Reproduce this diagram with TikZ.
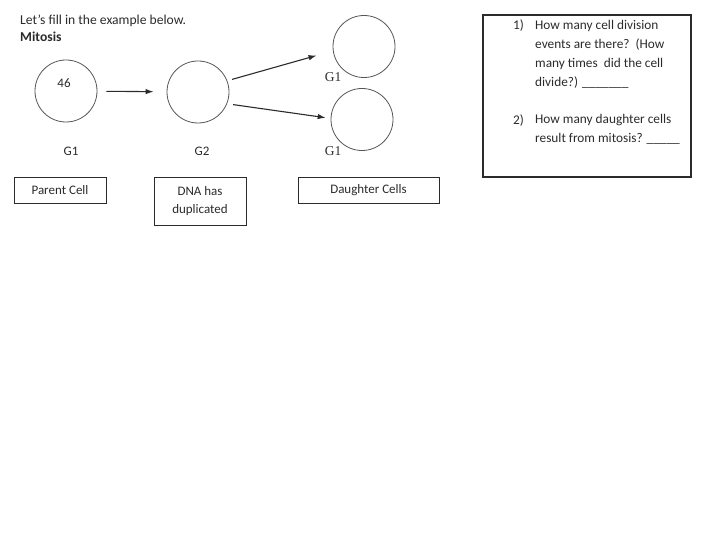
\documentclass[tikz,border=0pt]{standalone}
\usepackage{fontspec}
\setmainfont{Carlito}
\newfontfamily\timesfont{Liberation Serif}
\usetikzlibrary{arrows.meta}
\definecolor{inkgray}{HTML}{2B2B2B}
\definecolor{rimgray}{HTML}{555555}

\begin{document}
\begin{tikzpicture}[x=1pt, y=-1pt,
  cell/.style={circle, draw=rimgray, line width=0.8pt, minimum size=62pt, inner sep=0pt},
  tag/.style={draw=inkgray, line width=0.9pt, minimum height=26pt, align=center, text=inkgray, font=\fontsize{13}{18}\selectfont},
  phase/.style={font=\fontsize{13}{15}\selectfont, text=inkgray},
  gone/.style={font=\timesfont\fontsize{13.5}{15}\selectfont, text=inkgray},
  arrow/.style={-{Latex[length=8pt,width=5.5pt]}, line width=1.1pt, inkgray},
  quest/.style={anchor=base west, align=left, text=inkgray, inner sep=0pt, font=\fontsize{13.3}{19}\selectfont}
]
  \useasboundingbox (0,0) rectangle (720,540);

  % heading
  \node[anchor=base west, inner sep=0pt, text=inkgray, font=\fontsize{13.6}{16}\selectfont] (intro) at (20,25) {Let’s fill in the example below.};
  \node[anchor=base west, inner sep=0pt, text=inkgray, font=\fontsize{13.6}{16}\selectfont\bfseries] (title) at (20,42) {Mitosis};

  % cells
  \node[cell] (parent) at (66,91) {};
  \node[phase] (count) at (64,83) {46};
  \node[cell] (dup) at (198,92) {};
  \node[cell] (dtop) at (364,46.5) {};
  \node[cell] (dbot) at (362,119.5) {};

  \draw[arrow, shorten <=9pt, shorten >=13pt] (parent) -- (dup);
  \draw[arrow, shorten <=5pt, shorten >=17pt] (dup.21) -- (dtop.188);
  \draw[arrow, shorten <=6pt, shorten >=5pt] (dup.-22) -- (dbot.178);

  % phase labels
  \node[phase] (g1a) at (71,151) {G1};
  \node[phase] (g2) at (202,151) {G2};
  \node[gone] (g1b) at (333,77) {G1};
  \node[gone] (g1c) at (333,151) {G1};

  % boxes
  \node[tag, minimum width=92pt] (parentbox) at (60,190) {Parent Cell};
  \node[tag, minimum width=92pt, minimum height=48pt] (dnabox) at (200,201) {DNA has\\duplicated};
  \node[tag, minimum width=141pt] (daughterbox) at (368.5,190) {Daughter Cells};

  % questions (base = last line)
  \node[draw=inkgray, line width=1.1pt, minimum width=208pt, minimum height=162pt] (qbox) at (587,96) {};
  \node[quest] (q1no) at (513,30) {1)};
  \node[quest] (q1) at (535,87) {How many cell division\\events are there?~~(How\\many times~ did the cell\\divide?) \_\_\_\_\_\_\_};
  \node[quest] (q2no) at (513,125) {2)};
  \node[quest] (q2) at (535,143) {How many daughter cells\\result from mitosis? \_\_\_\_\_};
\end{tikzpicture}
\end{document}
